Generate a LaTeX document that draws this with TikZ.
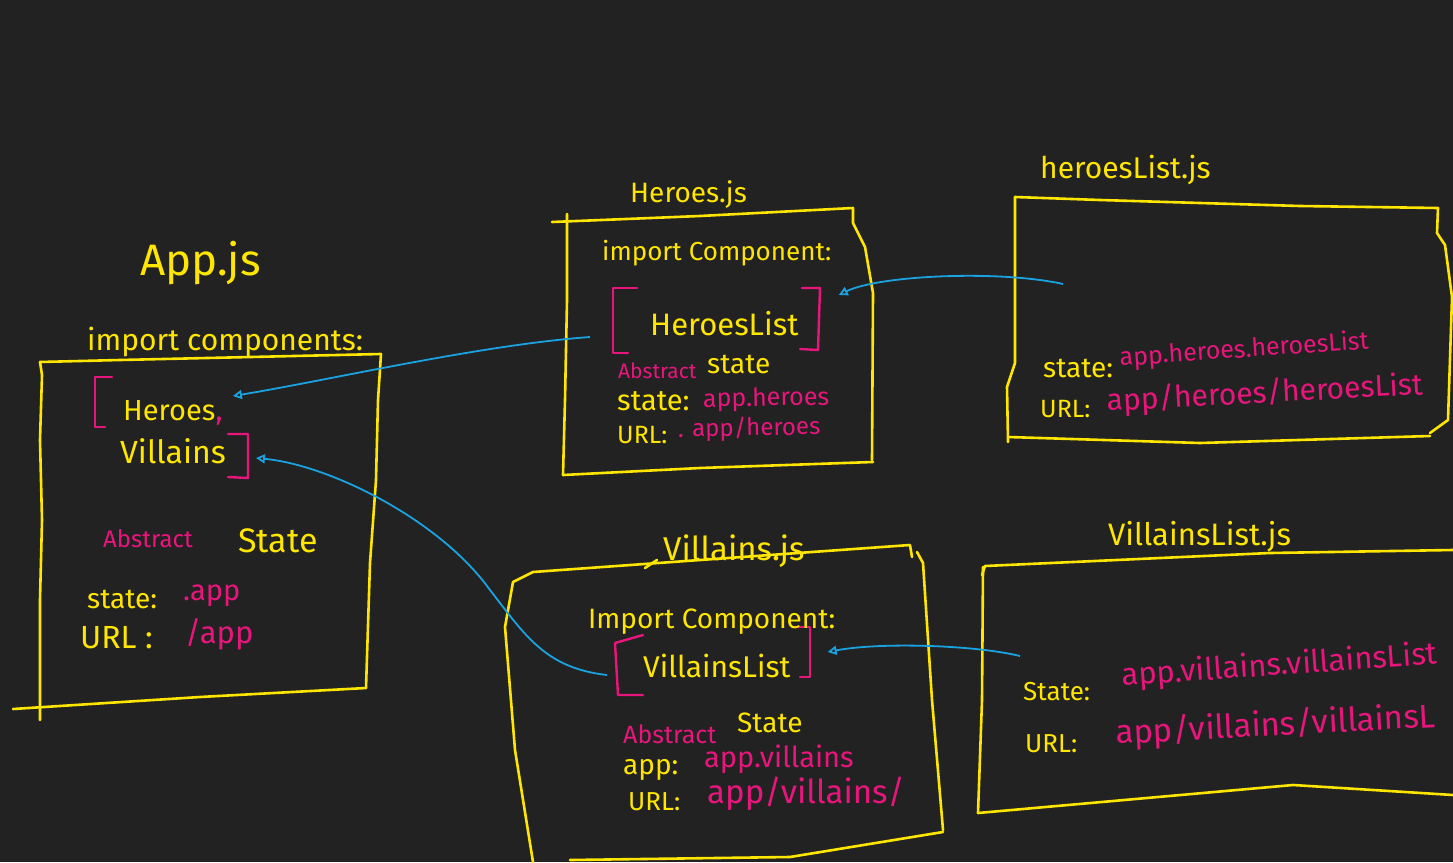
\documentclass[tikz,border=0pt]{standalone}
\usepackage{fontspec}
\setmainfont{Fira Sans}
\usetikzlibrary{arrows.meta}
\definecolor{board}{HTML}{222222}
\definecolor{hy}{HTML}{FFE600}
\definecolor{hp}{HTML}{E8167C}
\definecolor{hb}{HTML}{1AA3E0}
\begin{document}
\begin{tikzpicture}[x=1pt,y=-1pt,
  box/.style={draw=hy,line width=2.6pt,line join=round,line cap=round},
  brk/.style={draw=hp,line width=2.4pt,line join=round,line cap=round},
  link/.style={draw=hb,line width=1.8pt,-{Triangle[open,length=9pt,width=9pt]}},
  txt/.style={inner sep=0pt,anchor=base west,font=\fontsize{#1}{#1}\selectfont},
  yel/.style={txt=#1,text=hy},
  pnk/.style={txt=#1,text=hp}]

% board
\useasboundingbox (0,0) rectangle (1453,862);
\fill[board] (0,0) rectangle (1453,862);

% ---------- App.js ----------
\draw[box] (40,362) -- (120,360) -- (381,354) -- (378,400) -- (376,480) -- (370,563) -- (366,688);
\draw[box] (40,362) -- (42,375) -- (40,440) -- (42,520) -- (40,600) -- (40,720);
\draw[box] (13,709) -- (200,697) -- (366,688);
\draw[brk] (112,377) -- (95,377) -- (95,427) -- (105,427);
\draw[brk] (228,434) -- (248,434) -- (248,478) -- (228,477);

\node[yel=44] (appT) at (140,275) {App.js};
\node[yel=30] (appImp) at (87,350) {import components:};
\node[yel=29] (heroes) at (123,420) {Heroes};
\node[pnk=29] (hcomma) at (heroes.base east) {,};
\node[yel=32] (villains) at (120,463) {Villains};
\node[pnk=24] (appAbs) at (103,547) {Abstract};
\node[yel=34] (appState) at (238,552) {State};
\node[yel=28] (appSt) at (87,608) {state:};
\node[pnk=29] (appStV) at (183,600) {.app};
\node[yel=32] (appUrl) at (80,648) {URL :};
\node[pnk=31] (appUrlV) at (185,643) {/app};

% ---------- Heroes.js ----------
\draw[box] (552,222) -- (700,216) -- (853,208) -- (853,223) -- (865,247) -- (873,293) -- (872,460);
\draw[box] (567,214) -- (567,300) -- (565,400) -- (563,475);
\draw[box] (563,475) -- (700,468) -- (873,462);
\draw[brk] (637,288) -- (613,288) -- (613,353) -- (628,353);
\draw[brk] (802,288) -- (820,288) -- (818,350) -- (800,349);

\node[yel=28] (herT) at (630,202) {Heroes.js};
\node[yel=26] (herImp) at (602,260) {import Component:};
\node[yel=31] (heroesList) at (650,335) {HeroesList};
\node[pnk=21] (herAbs) at (618,378) {Abstract};
\node[yel=28] (herState) at (707,373) {state};
\node[yel=29] (herSt) at (617,410) {state:};
\node[pnk=25,rotate=1] (herStV) at (703,407) {app.heroes};
\node[yel=25] (herUrl) at (617,443) {URL:};
\node[pnk=24,rotate=1] (herUrlV) at (678,437) {. app/heroes};

% ---------- heroesList.js ----------
\draw[box] (1015,197) -- (1100,200) -- (1300,206) -- (1438,208) -- (1437,233) -- (1445,245) -- (1452,297) -- (1448,420) -- (1430,433);
\draw[box] (1015,197) -- (1015,363) -- (1007,387) -- (1008,442);
\draw[box] (1008,437) -- (1200,443) -- (1430,436);

\node[yel=30] (hlT) at (1040,178) {heroesList.js};
\node[yel=28] (hlSt) at (1043,377) {state:};
\node[pnk=25,rotate=4] (hlStV) at (1120,366) {app.heroes.heroesList};
\node[yel=25] (hlUrl) at (1040,417) {URL:};
\node[pnk=30,rotate=3] (hlUrlV) at (1107,411) {app/heroes/heroesList};

% ---------- Villains.js ----------
\draw[box] (513,582) -- (533,572) -- (700,560) -- (910,545) -- (912,557);
\draw[box] (645,568) -- (657,560);
\draw[box] (917,552) -- (923,563) -- (932,700) -- (943,830);
\draw[box] (943,832) -- (790,857) -- (570,860);
\draw[box] (513,582) -- (505,627) -- (515,750) -- (533,862);
\draw[brk] (643,635) -- (615,643) -- (618,695) -- (643,695);
\draw[brk] (793,627) -- (810,627) -- (810,677) -- (800,677);

\node[yel=33] (vilT) at (663,560) {Villains.js};
\node[yel=28] (vilImp) at (588,628) {Import Component:};
\node[yel=30] (villainsList) at (643,677) {VillainsList};
\node[pnk=25] (vilAbs) at (623,743) {Abstract};
\node[yel=28] (vilState) at (737,732) {State};
\node[yel=28] (vilSt) at (623,774) {app:};
\node[pnk=29] (vilStV) at (704,767) {app.villains};
\node[yel=26] (vilUrl) at (628,810) {URL:};
\node[pnk=33] (vilUrlV) at (707,803) {app/villains/};

% ---------- VillainsList.js ----------
\draw[box] (982,575) -- (985,566) -- (1007,565) -- (1270,553) -- (1453,550);
\draw[box] (983,567) -- (982,700) -- (978,813);
\draw[box] (978,813) -- (1293,785) -- (1453,795);

\node[yel=31] (vlT) at (1108,545) {VillainsList.js};
\node[yel=26] (vlSt) at (1023,700) {State:};
\node[pnk=31,rotate=4] (vlStV) at (1122,686) {app.villains.villainsList};
\node[yel=26] (vlUrl) at (1025,752) {URL:};
\node[pnk=33,rotate=3] (vlUrlV) at (1116,744) {app/villains/villainsL};

% ---------- import links ----------
\coordinate (hsrc) at (590,337);
\coordinate (hlsrc) at (1063,284);
\coordinate (vsrc) at (607,675);
\coordinate (vlsrc) at (1020,656);

\draw[link] (hsrc) .. controls (480,345) and (330,380) .. ([xshift=10pt,yshift=24pt]hcomma.base east);
\draw[link] (hlsrc) .. controls (1000,270) and (880,275) .. ([xshift=40pt,yshift=40pt]heroesList.base east);
\draw[link] (vsrc) .. controls (545,668) and (525,635) .. (490,590) .. controls (440,520) and (330,465) .. ([xshift=30pt,yshift=5pt]villains.base east);
\draw[link] (vlsrc) .. controls (975,645) and (880,642) .. ([xshift=37pt,yshift=25pt]villainsList.base east);
\end{tikzpicture}
\end{document}
